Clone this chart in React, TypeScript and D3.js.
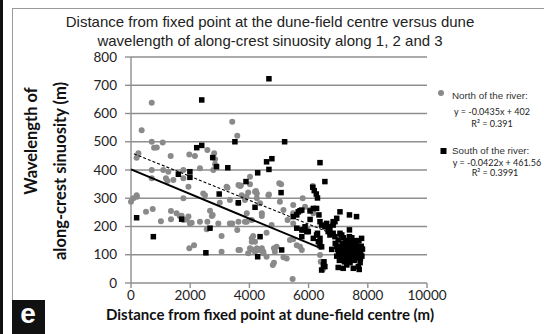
import React from "react";
import * as d3 from "d3";

const titleLines = [
  "Distance from fixed point at the dune-field centre versus dune",
  "wavelength of along-crest sinuosity along 1, 2 and 3",
];
const xTicks = [0, 2000, 4000, 6000, 8000, 10000];
const yTicks = [0, 100, 200, 300, 400, 500, 600, 700, 800];
const xTitle = "Distance from fixed point at dune-field centre (m)";
const yTitleLines = ["Wavelength of", "along-crest sinuosity (m)"];
const panelLabel = "e";

const northLegend = ["North of the river:", "y = -0.0435x + 402", "R\u00b2 = 0.391"];
const southLegend = ["South of the river:", "y = -0.0422x + 461.56", "R\u00b2 = 0.3991"];
const northFit = { slope: -0.0435, intercept: 402, x0: 0, x1: 6450 };
const southFit = { slope: -0.0422, intercept: 461.56, x0: 100, x1: 7800 };

const northPoints: [number, number][] = [
  [0, 288], [80, 300], [190, 311], [200, 305], [190, 443], [250, 459], [360, 541], [507, 252],
  [700, 638], [700, 500], [700, 400], [700, 371], [733, 262], [780, 479], [870, 480], [1010, 219],
  [1070, 497], [1090, 400], [1180, 371], [1230, 361], [1260, 394], [1340, 450], [1350, 255], [1350, 226],
  [1430, 365], [1540, 247], [1650, 237], [1710, 238], [1770, 400], [1770, 371], [1770, 300], [1770, 223],
  [1880, 225], [1940, 341], [1940, 235], [1970, 455], [1970, 123], [1990, 211], [2050, 213], [2130, 134],
  [2160, 450], [2330, 406], [2330, 217], [2440, 317], [2500, 311], [2560, 190], [2580, 471], [2580, 217],
  [2670, 256], [2730, 237], [2760, 241], [2780, 400], [2810, 459], [2840, 420], [2840, 438], [2950, 211],
  [3000, 284], [3060, 166], [3060, 111], [3230, 341], [3260, 337], [3340, 294], [3340, 211], [3420, 571],
  [3420, 211], [3590, 521], [3590, 188], [3630, 347], [3630, 282], [3630, 217], [3630, 117], [3680, 343],
  [3680, 117], [3710, 345], [3740, 311], [3850, 294], [3850, 217], [3900, 305], [3910, 247], [3910, 217],
  [3960, 320], [3960, 105], [4020, 376], [4020, 350], [4020, 123], [4080, 223], [4080, 158], [4080, 146],
  [4080, 119], [4130, 166], [4190, 323], [4190, 146], [4190, 111], [4220, 326], [4250, 317], [4250, 300],
  [4250, 123], [4300, 117], [4360, 282], [4360, 117], [4420, 247], [4420, 237], [4420, 123], [4470, 111],
  [4470, 105], [4580, 178], [4580, 93], [4640, 311], [4660, 313], [4750, 205], [4790, 64], [4830, 123],
  [4830, 72], [4860, 111], [4920, 128], [5010, 353], [5030, 288], [5070, 350], [5150, 258], [5150, 91],
  [5260, 87], [5290, 223], [5370, 152], [5460, 14], [5480, 276], [5480, 247], [5480, 211], [5480, 155],
  [5600, 134], [5710, 128], [5770, 117], [5800, 300], [5880, 270], [5940, 194], [6050, 258], [6140, 343],
  [6160, 247], [6385, 128], [6385, 99], [6410, 75], [6480, 48],
];

const southPoints: [number, number][] = [
  [190, 231], [755, 164], [1600, 385], [1710, 226], [1990, 394], [1990, 374], [2220, 479], [2390, 487],
  [2390, 648], [2530, 107], [2670, 194], [2760, 444], [2890, 412], [2980, 315], [3270, 408], [3510, 500],
  [3625, 284], [3885, 359], [4190, 268], [4280, 390], [4280, 93], [4360, 164], [4580, 429], [4660, 723],
  [4660, 402], [4760, 440], [5070, 320], [5090, 117], [5190, 500], [5480, 235], [5600, 194], [5600, 241],
  [5650, 252], [5710, 256], [5770, 258], [5770, 188], [5770, 164], [5820, 188], [5880, 199], [5940, 182],
  [5990, 182], [6050, 225], [6050, 255], [6140, 339], [6160, 264], [6160, 158], [6190, 327], [6260, 315],
  [6270, 264], [6270, 170], [6300, 301], [6300, 176], [6330, 146], [6350, 241], [6385, 426], [6385, 217],
  [6385, 158], [6385, 140], [6440, 205], [6440, 128], [6440, 46], [6500, 64], [6520, 75], [6550, 359],
  [6550, 199], [6550, 58], [6610, 211], [6660, 182], [6690, 199], [6720, 188], [6720, 170], [6780, 119],
  [6830, 217], [6830, 176], [6830, 205], [6890, 164], [6890, 217], [6950, 229], [7000, 152], [7000, 55],
  [7060, 252], [7060, 176], [7120, 170], [7170, 52], [7290, 64], [7380, 164], [7380, 241], [7380, 188],
  [7400, 72], [7510, 52], [7620, 235], [7680, 58], [7710, 48], [7740, 72], [7790, 158],
  [6900, 140], [6950, 130], [6980, 118], [7020, 105], [7050, 95], [7080, 130], [7100, 112], [7120, 88],
  [7150, 140], [7170, 120], [7200, 100], [7210, 75], [7230, 135], [7250, 110], [7270, 90], [7290, 125],
  [7310, 145], [7330, 100], [7350, 80], [7360, 118], [7380, 135], [7400, 105], [7420, 90], [7440, 125],
  [7460, 145], [7480, 110], [7500, 95], [7520, 130], [7540, 80], [7560, 115], [7580, 100], [7600, 140],
  [7620, 120], [7640, 90], [7660, 108], [7680, 130], [7700, 100], [7720, 118], [7750, 85], [7760, 110],
  [7780, 130], [7800, 95], [7820, 120], [7180, 160], [7260, 150], [7460, 160], [7560, 150], [6950, 95],
  [7040, 80], [7700, 150],
];

const W = 544;
const H = 334;
const calibri = "Lato, 'Open Sans', sans-serif";
const arial = "'Liberation Sans', Arial, sans-serif";

export default function App() {
  const x = d3.scaleLinear().domain([0, 10000]).range([131, 427]);
  const y = d3.scaleLinear().domain([0, 800]).range([283, 57]);
  const grey = "#8a8a8a";
  const gridColor = "#8f8f8f";
  const fitPath = (f: typeof northFit) =>
    d3.line<[number, number]>()
      .x((d) => x(d[0]))
      .y((d) => y(d[1]))([
      [f.x0, f.intercept + f.slope * f.x0],
      [f.x1, f.intercept + f.slope * f.x1],
    ]) as string;
  const sq = 5.5;
  const yTitleCenters = [141, 171];
  return (
    <svg
      width={W}
      height={H}
      style={{ position: "absolute", left: 0, top: 0, background: "#fff" }}
    >
      <rect x={0} y={0} width={W} height={H} fill="#fff" />
      <rect x={0} y={0} width={3} height={H} fill="#111" />
      <line x1={12} y1={8.5} x2={W} y2={8.5} stroke="#9a9a9a" strokeWidth={1} />
      <line x1={12.5} y1={8} x2={12.5} y2={300} stroke="#9a9a9a" strokeWidth={1} />

      {titleLines.map((t, i) => (
        <text key={i} x={270} y={27 + i * 19} textAnchor="middle" fontFamily={arial} fontSize={15} fill="#222">
          {t}
        </text>
      ))}

      {yTicks.map((t) => (
        <g key={t}>
          {t > 0 && (
            <line x1={x(0)} x2={x(10000)} y1={y(t)} y2={y(t)} stroke={gridColor} strokeWidth={1.4} />
          )}
          <line x1={125} x2={x(0)} y1={y(t)} y2={y(t)} stroke={gridColor} strokeWidth={1.4} />
          <text x={117} y={y(t) + 4.5} textAnchor="end" fontFamily={calibri} fontSize={13.5} fill="#222">
            {t}
          </text>
        </g>
      ))}
      <line x1={x(0)} x2={x(0)} y1={y(800)} y2={y(0)} stroke={gridColor} strokeWidth={1.4} />
      <line x1={x(0)} x2={x(10000)} y1={y(0)} y2={y(0)} stroke={gridColor} strokeWidth={1.4} />
      {xTicks.map((t) => (
        <g key={t}>
          <line x1={x(t)} x2={x(t)} y1={y(0)} y2={y(0) + 5} stroke={gridColor} strokeWidth={1.4} />
          <text x={x(t)} y={300} textAnchor="middle" fontFamily={calibri} fontSize={13.5} fill="#222">
            {t}
          </text>
        </g>
      ))}

      {northPoints.map((p, i) => (
        <circle key={"n" + i} cx={x(p[0])} cy={y(p[1])} r={3} fill={grey} />
      ))}
      {southPoints.map((p, i) => (
        <rect key={"s" + i} x={x(p[0]) - sq / 2} y={y(p[1]) - sq / 2} width={sq} height={sq} fill="#000" />
      ))}

      <path d={fitPath(northFit)} stroke="#000" strokeWidth={2} fill="none" />
      <path d={fitPath(southFit)} stroke="#000" strokeWidth={1.1} strokeDasharray="3,2" fill="none" />

      <text x={270} y={320} textAnchor="middle" fontFamily={calibri} fontWeight="bold" fontSize={15} fill="#111">
        {xTitle}
      </text>
      {yTitleLines.map((t, i) => (
        <text
          key={i}
          transform={`translate(${37 + i * 29},${yTitleCenters[i]}) rotate(-90)`}
          textAnchor="middle"
          fontFamily={calibri}
          fontWeight="bold"
          fontSize={16.5}
          fill="#111"
        >
          {t}
        </text>
      ))}

      <circle cx={441} cy={93} r={3} fill={grey} />
      <text x={452} y={99} fontFamily={arial} fontSize={9.8} fill="#333">{northLegend[0]}</text>
      <text x={492} y={115} textAnchor="middle" fontFamily={calibri} fontSize={9} fill="#222">{northLegend[1]}</text>
      <text x={492} y={127} textAnchor="middle" fontFamily={calibri} fontSize={9} fill="#222">{northLegend[2]}</text>

      <rect x={440.5} y={148} width={6} height={6} fill="#000" />
      <text x={452} y={154} fontFamily={arial} fontSize={9.8} fill="#333">{southLegend[0]}</text>
      <text x={497} y={166} textAnchor="middle" fontFamily={calibri} fontSize={9} fill="#222">{southLegend[1]}</text>
      <text x={495} y={176} textAnchor="middle" fontFamily={calibri} fontSize={9} fill="#222">{southLegend[2]}</text>

      <rect x={12} y={300} width={33} height={34} fill="#111" />
      <text x={28} y={323} textAnchor="middle" fontFamily={arial} fontWeight="bold" fontSize={28} fill="#fff">
        {panelLabel}
      </text>
    </svg>
  );
}
